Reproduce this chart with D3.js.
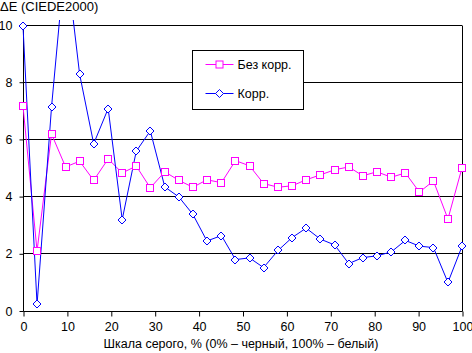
<!DOCTYPE html>
<html>
  <head>
    <meta charset="UTF-8">
    <title>ΔE (CIEDE2000)</title>
    <style>
      body { margin: 0; background: #fff; }
      svg { display: block; font-family: "Liberation Sans", Arial, sans-serif; }
    </style>
  </head>
  <body>
    <svg></svg>
    <script src="https://d3js.org/d3.v7.min.js"></script>
    <script>

// gray level, %
var grey = [0, 3.2, 6.5, 9.7, 12.9, 16.1, 19.4, 22.6, 25.8, 29.0, 32.3, 35.5, 38.7, 41.9, 45.2, 48.4,
            51.6, 54.8, 58.1, 61.3, 64.5, 67.7, 71.0, 74.2, 77.4, 80.6, 83.9, 87.1, 90.3, 93.5, 96.8, 100];

// Без корр.
var noCorr = [7.15, 2.08, 6.17, 5.02, 5.22, 4.55, 5.30, 4.81, 5.05, 4.29, 4.85, 4.55, 4.31, 4.57, 4.47, 5.24,
              5.06, 4.44, 4.31, 4.36, 4.57, 4.74, 4.92, 5.02, 4.71, 4.85, 4.66, 4.81, 4.14, 4.53, 3.20, 4.99];

// Корр.
var corr = [9.94, 0.21, 7.12, 12.45, 8.26, 5.83, 7.06, 3.18, 5.57, 6.28, 4.32, 3.97, 3.36, 2.43, 2.62, 1.78,
            1.84, 1.50, 2.10, 2.55, 2.88, 2.50, 2.29, 1.64, 1.85, 1.91, 2.05, 2.45, 2.25, 2.20, 0.98, 2.24];

var xTicks = [0, 10, 20, 30, 40, 50, 60, 70, 80, 90, 100];
var yTicks = [0, 2, 4, 6, 8, 10];
var seriesNames = ["Без корр.", "Корр."];

var config = {
  "width": 472,
  "height": 353,
  "left": 23,
  "right": 462,
  "top": 24.5,
  "bottom": 310.5,
  "fontSize": 12.5
}

var svg = d3.select("svg")
  .attr("width", config.width)
  .attr("height", config.height);

var x = d3.scaleLinear().domain([0, 100]).range([config.left, config.right]);
var y = d3.scaleLinear().domain([0, 10]).range([config.bottom, config.top]);

// gridlines
svg.append("g")
  .selectAll("line")
  .data(yTicks.filter(function(d){ return d > 0; }))
  .enter().append("line")
    .attr("x1", config.left)
    .attr("x2", config.right)
    .attr("y1", function(d){ return Math.round(y(d)) + 0.5; })
    .attr("y2", function(d){ return Math.round(y(d)) + 0.5; })
    .attr("stroke", "#000")
    .attr("stroke-width", 1);

// right border
svg.append("line")
  .attr("x1", config.right + 0.5).attr("x2", config.right + 0.5)
  .attr("y1", Math.round(y(10)) + 0.5).attr("y2", Math.round(y(0)) + 0.5)
  .attr("stroke", "#000");

// axes
var yAxis = svg.append("g")
  .attr("transform", "translate(" + (config.left + 0.5) + ",0.5)")
  .call(d3.axisLeft(y).tickValues(yTicks).tickSize(4).tickPadding(7).tickFormat(d3.format("d")));

var xAxis = svg.append("g")
  .attr("transform", "translate(0.5," + (Math.round(y(0)) + 0.5) + ")")
  .call(d3.axisBottom(x).tickValues(xTicks).tickSize(5).tickPadding(6).tickFormat(d3.format("d")));

[yAxis, xAxis].forEach(function(a){
  a.selectAll("path, line").attr("stroke", "#000");
  a.selectAll("text").attr("fill", "#000").attr("font-size", config.fontSize)
    .attr("font-family", "\"Liberation Sans\", Arial, sans-serif");
});
yAxis.select(".domain").attr("d", "M0," + Math.round(y(10)) + "V" + Math.round(y(0)));
xAxis.select(".domain").attr("d", "M" + config.left + ",0H" + config.right);

// titles
svg.append("text")
  .attr("x", 0).attr("y", 11)
  .attr("font-size", 13)
  .text("ΔE (CIEDE2000)");

svg.append("text")
  .attr("x", 241).attr("y", 348)
  .attr("text-anchor", "middle")
  .attr("font-size", config.fontSize)
  .text("Шкала серого, % (0% – черный, 100% – белый)");

// data
svg.append("clipPath").attr("id", "plot")
  .append("rect").attr("x", 0).attr("y", 20).attr("width", config.width).attr("height", 300);

var plot = svg.append("g").attr("clip-path", "url(#plot)");

var line = d3.line()
  .x(function(d, i){ return x(grey[i]); })
  .y(function(d){ return y(d); });

plot.append("path").datum(noCorr)
  .attr("d", line).attr("fill", "none").attr("stroke", "#ff00ff").attr("stroke-width", 1);
plot.append("path").datum(corr)
  .attr("d", line).attr("fill", "none").attr("stroke", "#0000ff").attr("stroke-width", 1);

plot.append("g").selectAll("rect")
  .data(noCorr)
  .enter().append("rect")
    .attr("x", function(d, i){ return Math.round(x(grey[i])) - 3.5; })
    .attr("y", function(d){ return Math.round(y(d)) - 3.5; })
    .attr("width", 7).attr("height", 7)
    .attr("fill", "#fff").attr("stroke", "#ff00ff");

var diamond = "M0,-4L4,0L0,4L-4,0Z";
plot.append("g").selectAll("path")
  .data(corr)
  .enter().append("path")
    .attr("transform", function(d, i){ return "translate(" + Math.round(x(grey[i])) + "," + Math.round(y(d)) + ")"; })
    .attr("d", diamond)
    .attr("fill", "#fff").attr("stroke", "#0000ff");

// legend
var legend = svg.append("g").attr("transform", "translate(192.5,50.5)");
legend.append("rect")
  .attr("width", 111).attr("height", 59)
  .attr("fill", "#fff").attr("stroke", "#000");

var legendColors = ["#ff00ff", "#0000ff"];
var item = legend.selectAll("g.item")
  .data(seriesNames)
  .enter().append("g")
    .attr("class", "item")
    .attr("transform", function(d, i){ return "translate(0," + (14 + i * 29) + ")"; });

item.append("line")
  .attr("x1", 13).attr("x2", 41)
  .attr("stroke", function(d, i){ return legendColors[i]; });

item.each(function(d, i){
  var g = d3.select(this);
  if (i == 0) {
    g.append("rect").attr("x", 23.5).attr("y", -3.5).attr("width", 7).attr("height", 7)
      .attr("fill", "#fff").attr("stroke", legendColors[i]);
  } else {
    g.append("path").attr("transform", "translate(27,0)").attr("d", diamond)
      .attr("fill", "#fff").attr("stroke", legendColors[i]);
  }
});

item.append("text")
  .attr("x", 45).attr("dy", "0.36em")
  .attr("font-size", config.fontSize)
  .text(function(d){ return d; });

    </script>
  </body>
</html>
